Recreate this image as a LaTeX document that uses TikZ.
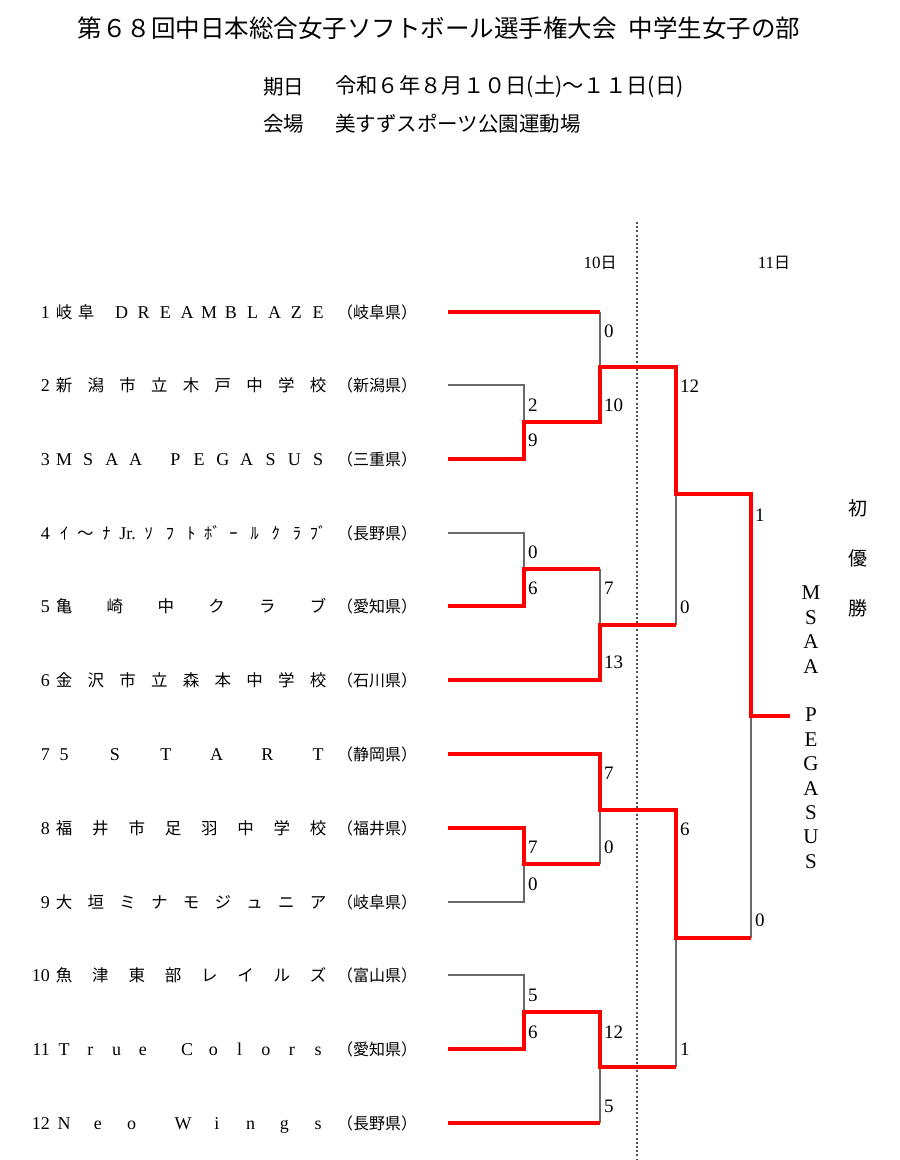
\documentclass[tikz,border=0pt]{standalone}
\usepackage{fontspec}
\setmainfont{Liberation Serif}
\newfontfamily\jp{Noto Sans CJK JP}
\definecolor{losecol}{RGB}{105,105,105}
\definecolor{dotcol}{RGB}{80,80,80}
\newcommand\jc[1]{\makebox[16pt][c]{\jp\fontsize{16.5}{18}\selectfont #1}\hfill}
\newcommand\ec[1]{\makebox[16pt][c]{#1}\hfill}
\newcommand\bk[1]{\hspace*{#1}\hfill}
\newcommand\teamname[1]{\hbox to 270pt{#1\unskip}}
\tikzset{
  win/.style={draw=red, line width=4pt},
  lose/.style={draw=losecol, line width=2pt},
  namef/.style={anchor=base west, inner sep=0pt, font=\fontsize{18}{20}\selectfont},
  numf/.style={anchor=base east, inner sep=0pt, font=\fontsize{18}{20}\selectfont},
  preff/.style={anchor=base west, inner sep=0pt, font=\jp\fontsize{16}{18}\selectfont},
  score/.style={anchor=west, inner sep=0pt, font=\fontsize{19}{20}\selectfont},
  dayf/.style={inner sep=0pt, font=\fontsize{17}{18}\selectfont},
  champf/.style={inner sep=0pt, font=\fontsize{21}{22}\selectfont},
  vicf/.style={inner sep=0pt, font=\jp\fontsize{19}{20}\selectfont},
  headf/.style={anchor=west, inner sep=0pt, font=\jp\fontsize{20.5}{22}\selectfont},
}
\begin{document}
\begin{tikzpicture}[x=1pt,y=-1pt]
\path[use as bounding box, fill=white] (0,0) rectangle (900,1160);

% titles
\node[inner sep=0pt, font=\jp\fontsize{24.5}{26}\selectfont] (title) at (439,28)
  {第６８回中日本総合女子ソフトボール選手権大会\hspace{0.5em}中学生女子の部};
\node[headf] (dlab) at (263,87) {期日};
\node[headf, font=\jp\fontsize{21.3}{22}\selectfont] (dval) at (335,87) {令和６年８月１０日(土)～１１日(日)};
\node[headf] (vlab) at (263,124) {会場};
\node[headf] (vval) at (335,124) {美すずスポーツ公園運動場};

% day headers and divider
\node[dayf] (d10) at (600,263) {10{\jp\fontsize{16}{18}\selectfont 日}};
\node[dayf] (d11) at (774,263) {11{\jp\fontsize{16}{18}\selectfont 日}};
\coordinate (divtop) at (637,222);
\coordinate (divbot) at (637,1160);
\draw[dotcol, line width=1.3pt, dash pattern=on 2pt off 2.2pt] (divtop) -- (divbot);

% team numbers
\foreach \n/\y in {1/312,2/385,3/459,4/533,5/606,6/680,7/754,8/828,9/902,10/975,11/1049,12/1123}
  \node[numf] (num\n) at (50,\y+6) {\n};

% team names
\node[namef] (n1) at (56,318) {\teamname{\jc{岐}\jc{阜}\bk{8pt}\ec{D}\ec{R}\ec{E}\ec{A}\ec{M}\ec{B}\ec{L}\ec{A}\ec{Z}\ec{E}}};
\node[namef] (n2) at (56,391) {\teamname{\jc{新}\jc{潟}\jc{市}\jc{立}\jc{木}\jc{戸}\jc{中}\jc{学}\jc{校}}};
\node[namef] (n3) at (56,465) {\teamname{\ec{M}\ec{S}\ec{A}\ec{A}\bk{8pt}\ec{P}\ec{E}\ec{G}\ec{A}\ec{S}\ec{U}\ec{S}}};
\node[namef] (n4) at (56,539) {\teamname{\jc{ｲ}\jc{～}\jc{ﾅ}\ec{Jr.}\jc{ｿ}\jc{ﾌ}\jc{ﾄ}\jc{ﾎﾞ}\jc{ｰ}\jc{ﾙ}\jc{ｸ}\jc{ﾗ}\jc{ﾌﾞ}}};
\node[namef] (n5) at (56,612) {\teamname{\jc{亀}\jc{崎}\jc{中}\jc{ク}\jc{ラ}\jc{ブ}}};
\node[namef] (n6) at (56,686) {\teamname{\jc{金}\jc{沢}\jc{市}\jc{立}\jc{森}\jc{本}\jc{中}\jc{学}\jc{校}}};
\node[namef] (n7) at (56,760) {\teamname{\ec{5}\ec{S}\ec{T}\ec{A}\ec{R}\ec{T}}};
\node[namef] (n8) at (56,834) {\teamname{\jc{福}\jc{井}\jc{市}\jc{足}\jc{羽}\jc{中}\jc{学}\jc{校}}};
\node[namef] (n9) at (56,908) {\teamname{\jc{大}\jc{垣}\jc{ミ}\jc{ナ}\jc{モ}\jc{ジ}\jc{ュ}\jc{ニ}\jc{ア}}};
\node[namef] (n10) at (56,981) {\teamname{\jc{魚}\jc{津}\jc{東}\jc{部}\jc{レ}\jc{イ}\jc{ル}\jc{ズ}}};
\node[namef] (n11) at (56,1055) {\teamname{\ec{T}\ec{r}\ec{u}\ec{e}\bk{8pt}\ec{C}\ec{o}\ec{l}\ec{o}\ec{r}\ec{s}}};
\node[namef] (n12) at (56,1129) {\teamname{\ec{N}\ec{e}\ec{o}\bk{0pt}\ec{W}\ec{i}\ec{n}\ec{g}\ec{s}}};

% prefectures
\foreach \n/\y/\p in {1/312/岐阜県,2/385/新潟県,3/459/三重県,4/533/長野県,5/606/愛知県,6/680/石川県,
                      7/754/静岡県,8/828/福井県,9/902/岐阜県,10/975/富山県,11/1049/愛知県,12/1123/長野県}
  \node[preff] (p\n) at (337,\y+6) {（\p）};

% bracket coordinates
\foreach \n/\y in {1/312,2/385,3/459,4/533,5/606,6/680,7/754,8/828,9/902,10/975,11/1049,12/1123}
  \coordinate (t\n) at (448,\y);
\coordinate (m23) at (524,422);
\coordinate (m45) at (524,569);
\coordinate (m89) at (524,864);
\coordinate (m1011) at (524,1012);
\coordinate (j1) at (600,367);
\coordinate (j2) at (600,625);
\coordinate (j3) at (600,810);
\coordinate (j4) at (600,1067);
\coordinate (k1) at (676,494);
\coordinate (k2) at (676,938);
\coordinate (f) at (751,716);
\coordinate (champ) at (790,716);

% losing paths
\draw[lose] (t2) -| (m23);
\draw[lose] (t4) -| (m45);
\draw[lose] (t9) -| (m89);
\draw[lose] (t10) -| (m1011);
\draw[lose] (t1 -| j1) -- (j1);
\draw[lose] (m45 -| j2) -- (j2);
\draw[lose] (m89 -| j3) -- (j3);
\draw[lose] (t12 -| j4) -- (j4);
\draw[lose] (j2 -| k1) -- (k1);
\draw[lose] (j4 -| k2) -- (k2);
\draw[lose] (k2 -| f) -- (f);

% winning paths
\draw[win] (t1) -- (t1 -| j1);
\draw[win] (t3) -| (m23) -| (j1) -| (k1) -| (f) -- (champ);
\draw[win] (t5) -| (m45) -- (m45 -| j2);
\draw[win] (t6) -| (j2) -- (j2 -| k1);
\draw[win] (t7) -| (j3) -| (k2) -- (k2 -| f);
\draw[win] (t8) -| (m89) -- (m89 -| j3);
\draw[win] (t11) -| (m1011) -| (j4) -- (j4 -| k2);
\draw[win] (t12) -- (t12 -| j4);

% scores
\foreach \x/\y/\s [count=\i] in {
  600/331/0, 524/405/2, 600/405/10, 524/440/9, 676/386/12, 751/515/1,
  524/552/0, 524/588/6, 600/588/7, 676/607/0, 600/662/13,
  600/773/7, 676/829/6, 524/847/7, 600/847/0, 524/884/0, 751/920/0,
  524/995/5, 524/1032/6, 600/1032/12, 676/1049/1, 600/1106/5}
  \node[score] (s\i) at (\x+4,\y) {\s};

% champion
\foreach \c [count=\i from 0] in {M,S,A,A,{},P,E,G,A,S,U,S}
  \node[champf] (w\i) at (811,{593+24.4*\i}) {\c};
\foreach \c/\y [count=\i] in {初/508,優/558,勝/608}
  \node[vicf] (v\i) at (858,\y) {\c};
\end{tikzpicture}
\end{document}
